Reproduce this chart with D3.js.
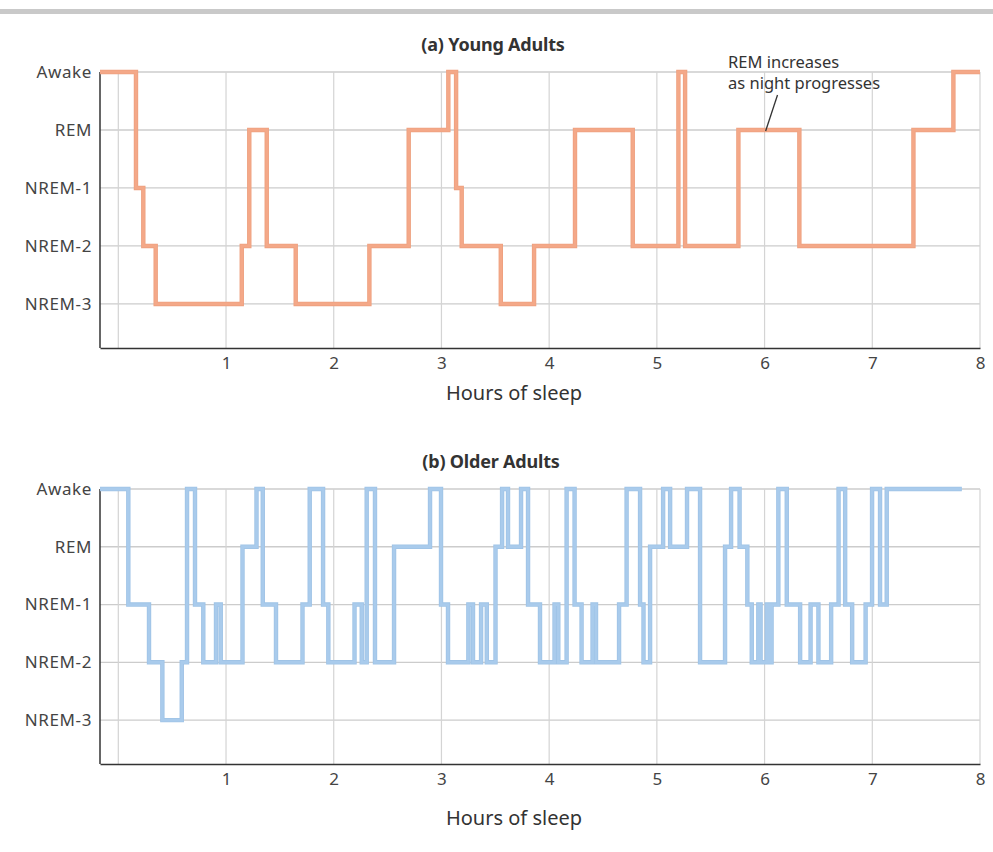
<!DOCTYPE html>
<html>
<head>
<meta charset="utf-8">
<script src="https://cdn.jsdelivr.net/npm/d3@7"></script>
<style>
  html, body { margin: 0; padding: 0; background: #ffffff; }
  svg { display: block; }
  text { font-family: "Noto Sans", "Open Sans", sans-serif; }
</style>
</head>
<body>
<svg id="chart" width="993" height="852"></svg>
<script>
// ---------- DATA ----------
const stages = ["Awake", "REM", "NREM-1", "NREM-2", "NREM-3"];
const hourTicks = [1, 2, 3, 4, 5, 6, 7, 8];
const gridHours = [0, 1, 2, 3, 4, 5, 6, 7, 8];

// Young adults: time (hours) at which each stage begins, and the stage
const youngStart = [-0.17, 0.164, 0.232, 0.347, 1.146, 1.216, 1.378, 1.647, 2.331, 2.696,
  3.064, 3.136, 3.188, 3.551, 3.860, 4.240, 4.776, 5.200, 5.262, 5.757, 6.323, 7.382, 7.753];
const youngStage = ["Awake", "NREM-1", "NREM-2", "NREM-3", "NREM-2", "REM", "NREM-2", "NREM-3", "NREM-2", "REM",
  "Awake", "NREM-1", "NREM-2", "NREM-3", "NREM-2", "REM", "NREM-2", "Awake", "NREM-2", "REM", "NREM-2", "REM", "Awake"];
const youngEnd = 8.0;

// Older adults
const olderStart = [-0.17, 0.093, 0.285, 0.409, 0.589, 0.638, 0.712, 0.789, 0.907, 0.951,
  1.153, 1.283, 1.341, 1.464, 1.710, 1.777, 1.901, 1.950, 2.193, 2.260,
  2.306, 2.383, 2.560, 2.894, 2.996, 3.061, 3.250, 3.293, 3.368, 3.421,
  3.502, 3.563, 3.618, 3.739, 3.804, 3.915, 4.050, 4.085, 4.162, 4.236,
  4.301, 4.403, 4.435, 4.649, 4.719, 4.844, 4.876, 4.937, 5.058, 5.123,
  5.280, 5.401, 5.633, 5.689, 5.768, 5.840, 5.881, 5.942, 5.963, 6.020,
  6.042, 6.065, 6.128, 6.206, 6.330, 6.427, 6.500, 6.618, 6.687, 6.748,
  6.813, 6.938, 6.998, 7.072, 7.134];
const olderStage = ["Awake", "NREM-1", "NREM-2", "NREM-3", "NREM-2", "Awake", "NREM-1", "NREM-2", "NREM-1", "NREM-2",
  "REM", "Awake", "NREM-1", "NREM-2", "NREM-1", "Awake", "NREM-1", "NREM-2", "NREM-1", "NREM-2",
  "Awake", "NREM-2", "REM", "Awake", "NREM-1", "NREM-2", "NREM-1", "NREM-2", "NREM-1", "NREM-2",
  "REM", "Awake", "REM", "Awake", "NREM-1", "NREM-2", "NREM-1", "NREM-2", "Awake", "NREM-1",
  "NREM-2", "NREM-1", "NREM-2", "NREM-1", "Awake", "NREM-1", "NREM-2", "REM", "Awake", "REM",
  "Awake", "NREM-2", "REM", "Awake", "REM", "NREM-1", "NREM-2", "NREM-1", "NREM-2", "NREM-1",
  "NREM-2", "NREM-1", "Awake", "NREM-1", "NREM-2", "NREM-1", "NREM-2", "NREM-1", "Awake", "NREM-1",
  "NREM-2", "NREM-1", "Awake", "NREM-1", "Awake"];
const olderEnd = 7.831;

// ---------- DRAW ----------
const svg = d3.select("#chart");

// faint paper band at top like the scan
svg.append("rect").attr("x", 0).attr("y", 9).attr("width", 993).attr("height", 5).attr("fill", "#c9c9c9");

const xDomain = [-0.17, 8];
const yDomain = [0, 4.76];

function panel(cfg) {
  const x = d3.scaleLinear().domain(xDomain).range([100, 980]);
  const yIdx = d3.scaleLinear().domain(yDomain).range([cfg.top, cfg.bottom]);
  const y = s => yIdx(stages.indexOf(s));
  const g = svg.append("g");

  // horizontal grid
  g.selectAll("line.hg").data(stages).join("line")
    .attr("x1", x(xDomain[0])).attr("x2", x(xDomain[1]))
    .attr("y1", d => y(d)).attr("y2", d => y(d))
    .attr("stroke", "#cccccc").attr("stroke-width", 1.3);
  // vertical grid
  g.selectAll("line.vg").data(gridHours).join("line")
    .attr("x1", d => x(d)).attr("x2", d => x(d))
    .attr("y1", yIdx(0)).attr("y2", yIdx(yDomain[1]))
    .attr("stroke", "#d4d4d4").attr("stroke-width", 1.2);

  // y axis
  const yAxisScale = d3.scalePoint().domain(stages).range([y("Awake"), y("NREM-3")]);
  const ya = g.append("g").attr("transform", `translate(${x(xDomain[0])},0)`)
    .call(d3.axisLeft(yAxisScale).tickSize(0).tickPadding(8));
  ya.select(".domain").remove();
  ya.append("line").attr("x1", 0).attr("x2", 0).attr("y1", yIdx(0)).attr("y2", yIdx(yDomain[1]))
    .attr("stroke", "#333").attr("stroke-width", 1.5);
  ya.selectAll(".tick text").attr("font-size", 17).attr("fill", "#444")
    .attr("font-family", "\"Noto Sans\", sans-serif").attr("letter-spacing", "0.6px");

  // x axis
  const xa = g.append("g").attr("transform", `translate(0,${yIdx(yDomain[1])})`)
    .call(d3.axisBottom(x).tickValues(hourTicks).tickSize(0).tickPadding(9).tickFormat(d3.format("d")));
  xa.select(".domain").attr("stroke", "#333").attr("stroke-width", 1.5);
  xa.selectAll(".tick text").attr("font-size", 17).attr("fill", "#444")
    .attr("font-family", "\"Noto Sans\", sans-serif");

  // step line
  const pts = cfg.start.map((t, i) => ({ t: t, s: cfg.stage[i] }));
  pts.push({ t: cfg.end, s: cfg.stage[cfg.stage.length - 1] });
  const line = d3.line().x(d => x(d.t)).y(d => y(d.s)).curve(d3.curveStepAfter);
  g.append("path").datum(pts).attr("d", line)
    .attr("fill", "none").attr("stroke", cfg.edge).attr("stroke-width", 4.4)
    .attr("stroke-linejoin", "miter");
  g.append("path").datum(pts).attr("d", line)
    .attr("fill", "none").attr("stroke", cfg.color).attr("stroke-width", 2.8)
    .attr("stroke-linejoin", "miter");

  // title
  svg.append("text").attr("x", cfg.titleX).attr("y", cfg.titleY)
    .attr("text-anchor", "middle").attr("font-size", 18).attr("font-weight", "bold")
    .attr("fill", "#333").attr("letter-spacing", "-0.2px").text(cfg.title);
  // x axis title
  svg.append("text").attr("x", 514).attr("y", cfg.xlabY)
    .attr("text-anchor", "middle").attr("font-size", 20).attr("fill", "#333")
    .text("Hours of sleep");

  return { x, y };
}

const panelA = panel({
  top: 72, bottom: 348,
  start: youngStart, stage: youngStage, end: youngEnd,
  color: "#f4a888", edge: "#eea07f",
  title: "(a) Young Adults", titleX: 493, titleY: 51, xlabY: 400
});

panel({
  top: 489, bottom: 764,
  start: olderStart, stage: olderStage, end: olderEnd,
  color: "#a9cbec", edge: "#9fc3e6",
  title: "(b) Older Adults", titleX: 491, titleY: 468, xlabY: 825
});

// annotation in (a)
const ann = svg.append("g");
ann.append("text").attr("x", 728).attr("y", 68).attr("font-size", 16.5).attr("fill", "#333")
  .text("REM increases");
ann.append("text").attr("x", 728).attr("y", 89).attr("font-size", 16.5).attr("fill", "#333")
  .text("as night progresses");
ann.append("line").attr("x1", panelA.x(6.12)).attr("y1", 95)
  .attr("x2", panelA.x(6.01)).attr("y2", panelA.y("REM") + 1)
  .attr("stroke", "#333").attr("stroke-width", 1.3);
</script>
</body>
</html>
